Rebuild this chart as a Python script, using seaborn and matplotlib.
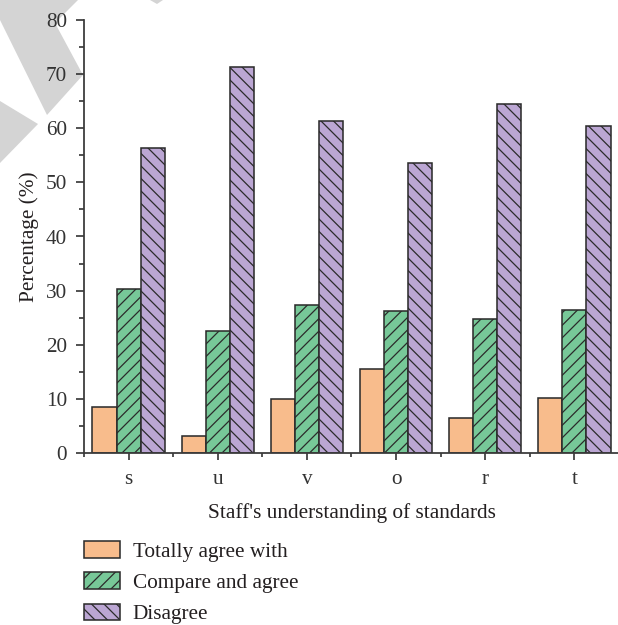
import matplotlib
matplotlib.use("Agg")
import matplotlib.pyplot as plt
from matplotlib.patches import Patch, Polygon
from matplotlib.ticker import MultipleLocator, FixedLocator
import numpy as np
import pandas as pd
import seaborn as sns

# ---- data ----
categories = ["s", "u", "v", "o", "r", "t"]
levels = ["Totally agree with", "Compare and agree", "Disagree"]
totally_agree = [8.5, 3.2, 9.9, 15.5, 6.5, 10.2]
compare_agree = [30.3, 22.5, 27.4, 26.3, 24.7, 26.4]
disagree = [56.4, 71.4, 61.4, 53.6, 64.5, 60.5]

colors = ["#F8BC8C", "#77C898", "#BBA6D3"]
hatches = ["", "////", "\\\\\\\\"]

df = pd.DataFrame({
    "item": categories * 3,
    "level": [levels[0]] * 6 + [levels[1]] * 6 + [levels[2]] * 6,
    "pct": totally_agree + compare_agree + disagree,
})

sns.set_theme(style="white")
plt.rcParams["font.family"] = ["Liberation Serif", "DejaVu Serif"]
plt.rcParams["hatch.linewidth"] = 0.6
plt.rcParams["text.color"] = "#231F20"
plt.rcParams["axes.labelcolor"] = "#231F20"
plt.rcParams["xtick.color"] = "#333333"
plt.rcParams["ytick.color"] = "#333333"

FS = 10.2
EDGE = "#2B2B2B"

fig = plt.figure(figsize=(618 / 150, 625 / 150), dpi=150)
ax = fig.add_axes([84 / 618, 1 - 453 / 625, (619 - 84) / 618, (453 - 20) / 625])

sns.barplot(
    data=df, x="item", y="pct", hue="level", order=categories, hue_order=levels,
    palette=colors, saturation=1, width=0.81, errorbar=None,
    edgecolor=EDGE, linewidth=0.75, legend=False, ax=ax,
)

for cont, h in zip(ax.containers, hatches):
    for bar in cont:
        bar.set_hatch(h)
        bar.set_edgecolor(EDGE)

ax.set_xlim(-0.5, 5.5)
ax.set_ylim(0, 80)

# spines
for side in ("top", "right"):
    ax.spines[side].set_visible(False)
for side in ("left", "bottom"):
    ax.spines[side].set_color("#3A3A3A")
    ax.spines[side].set_linewidth(0.85)

# ticks
ax.yaxis.set_major_locator(MultipleLocator(10))
ax.yaxis.set_minor_locator(MultipleLocator(5))
ax.xaxis.set_minor_locator(FixedLocator(np.arange(-0.5, 6.0, 1.0)))
ax.tick_params(axis="y", which="major", direction="out", length=3.8, width=0.8,
               labelsize=FS, pad=4.4, left=True)
ax.tick_params(axis="y", which="minor", direction="out", length=2.3, width=0.8, left=True)
ax.tick_params(axis="x", which="major", direction="out", length=3.4, width=0.8,
               labelsize=FS, pad=5.0, bottom=True)
ax.tick_params(axis="x", which="minor", direction="out", length=2.0, width=0.8, bottom=True)

ax.set_xlabel("Staff's understanding of standards", fontsize=FS, labelpad=6.5)
ax.set_ylabel("Percentage (%)", fontsize=FS, labelpad=3.2)

# legend below the axes
handles = [Patch(facecolor=c, edgecolor=EDGE, hatch=h, linewidth=0.75)
           for c, h in zip(colors, hatches)]
fig.legend(handles, levels, loc="upper left",
           bbox_to_anchor=(84 / 618, 1 - 541 / 625), frameon=False,
           fontsize=FS, handlelength=1.7, handleheight=0.82,
           handletextpad=0.6, labelspacing=0.5, borderpad=0, borderaxespad=0)

# light grey overlay shapes in the upper-left corner
grey = "#D4D4D4"
shapes = [
    [(0, 0), (78, 0), (55, 23), (83, 75), (47, 115), (0, 20)],
    [(150, 0), (163, 0), (157, 4)],
    [(0, 101), (38, 124), (0, 163)],
]
for pts in shapes:
    fig.add_artist(Polygon([(x / 618, 1 - y / 625) for x, y in pts],
                           closed=True, facecolor=grey, edgecolor="none",
                           transform=fig.transFigure, zorder=-1))

fig.savefig("out.png", dpi=150, facecolor="white")
